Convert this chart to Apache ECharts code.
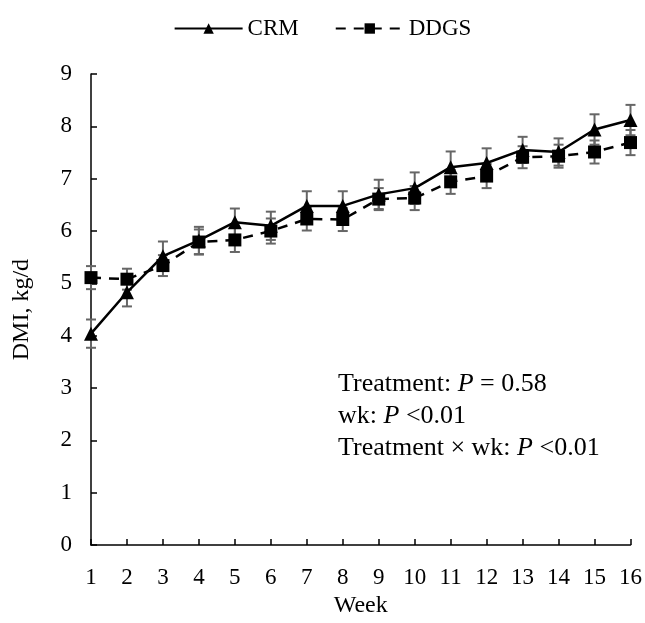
<!DOCTYPE html>
<html>
<head>
<meta charset="utf-8">
<script src="https://cdn.jsdelivr.net/npm/echarts@6/dist/echarts.min.js"></script>
<style>html,body{margin:0;padding:0;background:#fff}#c{width:645px;height:623px}</style>
</head>
<body>
<div id="c"></div>
<script>
var weeks = [1,2,3,4,5,6,7,8,9,10,11,12,13,14,15,16];
var crm = [4.04,4.83,5.52,5.82,6.17,6.10,6.48,6.48,6.70,6.82,7.22,7.30,7.55,7.51,7.94,8.12];
var crmErr = [0.27,0.27,0.28,0.26,0.26,0.27,0.28,0.28,0.28,0.30,0.30,0.28,0.25,0.26,0.29,0.29];
var ddgs = [5.11,5.08,5.34,5.79,5.83,6.00,6.23,6.22,6.61,6.63,6.94,7.05,7.41,7.43,7.51,7.69];
var ddgsErr = [0.22,0.20,0.20,0.24,0.23,0.24,0.22,0.22,0.21,0.23,0.23,0.23,0.21,0.22,0.22,0.24];
var yTicks = [0,1,2,3,4,5,6,7,8,9];

var FONT = '"Liberation Serif", "Times New Roman", serif';

function pairs(vals){ return weeks.map(function(w,i){ return [w, vals[i]]; }); }
function errData(vals, errs){ return weeks.map(function(w,i){ return [w, vals[i], errs[i]]; }); }

function errRender(params, api){
  var x = api.value(0), y = api.value(1), e = api.value(2);
  var hi = api.coord([x, y + e]);
  var lo = api.coord([x, y - e]);
  var hw = 5;
  var st = {stroke:'#666666', lineWidth:2};
  return {type:'group', children:[
    {type:'line', shape:{x1:hi[0], y1:hi[1], x2:lo[0], y2:lo[1]}, style:st},
    {type:'line', shape:{x1:hi[0]-hw, y1:hi[1], x2:hi[0]+hw, y2:hi[1]}, style:st},
    {type:'line', shape:{x1:lo[0]-hw, y1:lo[1], x2:lo[0]+hw, y2:lo[1]}, style:st}
  ]};
}

var chart = echarts.init(document.getElementById('c'), null, {renderer:'canvas'});
chart.setOption({
  animation:false,
  backgroundColor:'#fff',
  textStyle:{fontFamily:FONT, color:'#000'},
  legend:{
    top:12, left:'center', itemWidth:68, itemHeight:13, itemGap:36,
    textStyle:{fontFamily:FONT, fontSize:23, color:'#000'},
    data:['CRM','DDGS']
  },
  grid:{left:91, right:14, top:74, bottom:77},
  xAxis:{
    type:'value', min:1, max:16, interval:1,
    name:'Week', nameLocation:'middle', nameGap:46,
    nameTextStyle:{fontFamily:FONT, fontSize:24, color:'#000'},
    axisLine:{lineStyle:{color:'#000', width:1.5}},
    axisTick:{inside:true, length:6, lineStyle:{color:'#000', width:1.5}},
    axisLabel:{fontFamily:FONT, fontSize:23, color:'#000', margin:21},
    splitLine:{show:false}
  },
  yAxis:{
    type:'value', min:yTicks[0], max:yTicks[yTicks.length-1], interval:1,
    name:'DMI, kg/d', nameLocation:'middle', nameGap:57,
    nameTextStyle:{fontFamily:FONT, fontSize:24, color:'#000'},
    axisLine:{show:true, lineStyle:{color:'#000', width:1.5}},
    axisTick:{show:true, inside:true, length:6, lineStyle:{color:'#000', width:1.5}},
    axisLabel:{fontFamily:FONT, fontSize:23, color:'#000', margin:19},
    splitLine:{show:false}
  },
  graphic:[{
    type:'text', left:338, top:371,
    style:{
      text:'{n|Treatment: }{i|P}{n| = 0.58}\n{n|wk: }{i|P}{n| <0.01}\n{n|Treatment × wk: }{i|P}{n| <0.01}',
      rich:{
        n:{fontFamily:FONT, fontSize:26, fill:'#000', lineHeight:32},
        i:{fontFamily:FONT, fontSize:26, fontStyle:'italic', fill:'#000', lineHeight:32}
      }
    }
  }],
  series:[
    {type:'custom', name:'crmErr', renderItem:errRender, data:errData(crm, crmErr), z:1, silent:true},
    {type:'custom', name:'ddgsErr', renderItem:errRender, data:errData(ddgs, ddgsErr), z:1, silent:true},
    {type:'line', name:'DDGS', data:pairs(ddgs), symbol:'rect', symbolSize:13,
      itemStyle:{color:'#000'}, lineStyle:{color:'#000', width:2.5, type:[10,8]}, z:3},
    {type:'line', name:'CRM', data:pairs(crm), symbol:'triangle', symbolSize:14,
      itemStyle:{color:'#000'}, lineStyle:{color:'#000', width:2.5, type:'solid'}, z:4}
  ]
});
</script>
</body>
</html>
